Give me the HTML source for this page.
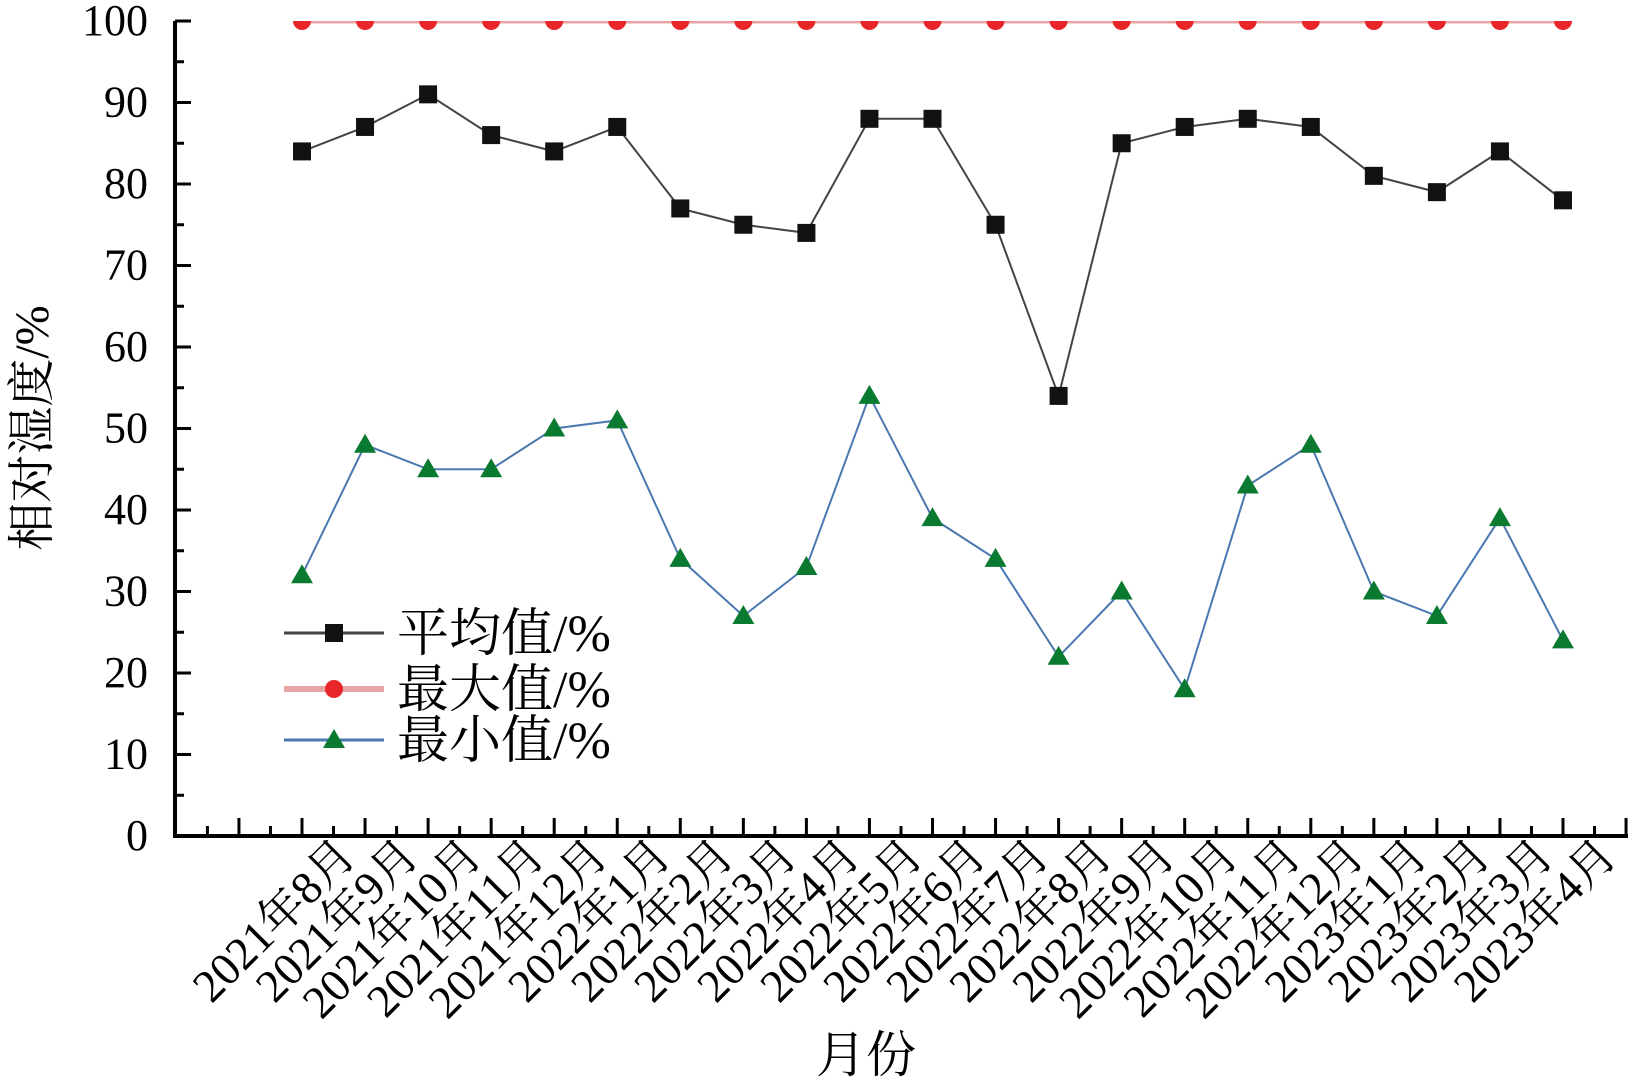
<!DOCTYPE html>
<html><head><meta charset="utf-8"><style>
html,body{margin:0;padding:0;background:#fff}
svg{display:block;font-family:"Liberation Serif","Noto Serif CJK SC",serif}
</style></head><body>
<svg id="chart" width="1638" height="1087" viewBox="0 0 1638 1087">
<defs><clipPath id="plotclip"><rect x="170" y="21" width="1470" height="820"/></clipPath></defs>
<g id="axes"></g><g id="series" clip-path="url(#plotclip)"></g><g id="legend"></g>
</svg>
<script>
const categories=["2021年8月","2021年9月","2021年10月","2021年11月","2021年12月","2022年1月","2022年2月","2022年3月","2022年4月","2022年5月","2022年6月","2022年7月","2022年8月","2022年9月","2022年10月","2022年11月","2022年12月","2023年1月","2023年2月","2023年3月","2023年4月"];
const avgValues=[84,87,91,86,84,87,77,75,74,88,88,75,54,85,87,88,87,81,79,84,78];
const maxValues=[100,100,100,100,100,100,100,100,100,100,100,100,100,100,100,100,100,100,100,100,100];
const minValues=[32,48,45,45,50,51,34,27,33,54,39,34,22,30,18,43,48,30,27,39,24];
const yTicks=[0,10,20,30,40,50,60,70,80,90,100];
const NS="http://www.w3.org/2000/svg";
const X0=302,DX=63.05,Y0=836,YS=8.15,AXL=175,AXR=1628;
function xs(i){return X0+i*DX;}
function ys(v){return Y0-v*YS;}
function mk(tag,attrs,parent){const e=document.createElementNS(NS,tag);for(const k in attrs)e.setAttribute(k,attrs[k]);parent.appendChild(e);return e;}
const axes=document.getElementById('axes'),series=document.getElementById('series'),legend=document.getElementById('legend');
let a=mk('path',{d:`M${AXL} ${ys(100)} V${Y0} H${AXR}`,fill:'none',stroke:'#000','stroke-width':4},axes);


for(let v=0;v<=100;v+=5){
  const major=v%10===0;
  const t=mk('line',{x1:AXL,x2:AXL+(major?16:9),y1:ys(v),y2:ys(v),stroke:'#000','stroke-width':3},axes);
  
  
}
yTicks.forEach(v=>{
  const t=mk('text',{x:148,y:ys(v)+14,'text-anchor':'end','font-size':44},axes);
  t.textContent=v;
  
  
});
for(let x=X0-4*DX/2;x<=AXR;x+=DX/2){
  const major=Math.abs(((x-X0)/DX)-Math.round((x-X0)/DX))<0.01;
  if(x<AXL+10)continue;
  const t=mk('line',{x1:x,x2:x,y1:Y0,y2:Y0-(major?18:10),stroke:'#000','stroke-width':3},axes);
  
  
}
categories.forEach((c,i)=>{
  const ax=xs(i)+56,ay=858;
  const t=mk('text',{x:ax,y:ay,'text-anchor':'end','font-size':46,transform:`rotate(-45 ${ax} ${ay})`},axes);
  t.textContent=c;
  
  
});
let yt=mk('text',{x:48,y:428,'text-anchor':'middle','font-size':48,transform:'rotate(-90 48 428)'},axes);
yt.textContent='相对湿度/%';


let xt=mk('text',{x:866,y:1072,'text-anchor':'middle','font-size':50},axes);
xt.textContent='月份';


function marker(type,x,y,color,parent){
  let e;
  if(type==='sq')e=mk('rect',{x:x-9,y:y-9,width:18,height:18,fill:color},parent);
  else if(type==='ci')e=mk('circle',{cx:x,cy:y,r:9,fill:color},parent);
  else e=mk('path',{d:`M${x} ${y-11} L${x+11} ${y+8} L${x-11} ${y+8} Z`,fill:color},parent);
  return e;
}
const defs=[
 {vals:avgValues,line:'#444',lw:2,type:'sq',mc:'#111',name:'average',label:'平均值/%'},
 {vals:maxValues,line:'#e8a4a4',lw:5,type:'ci',mc:'#e8262a',name:'maximum',label:'最大值/%'},
 {vals:minValues,line:'#4a78b0',lw:2,type:'tr',mc:'#0a7a30',name:'minimum',label:'最小值/%'}
];
defs.forEach(d=>{
  const p=mk('polyline',{points:d.vals.map((v,i)=>xs(i)+','+ys(v)).join(' '),fill:'none',stroke:d.line,'stroke-width':d.lw},series);
  
  
  d.vals.forEach((v,i)=>{
    const m=marker(d.type,xs(i),ys(v),d.mc,series);
    
    
  });
});
defs.forEach((d,k)=>{
  const ly=[633,689,740][k];
  const l=mk('line',{x1:284,x2:384,y1:ly,y2:ly,stroke:d.line,'stroke-width':d.lw+1},legend);
  
  
  const m=marker(d.type,334,ly,d.mc,legend);
  
  
  const t=mk('text',{x:397,y:ly+18,'font-size':52},legend);
  t.textContent=d.label;
  
  
});
</script>
</body></html>
